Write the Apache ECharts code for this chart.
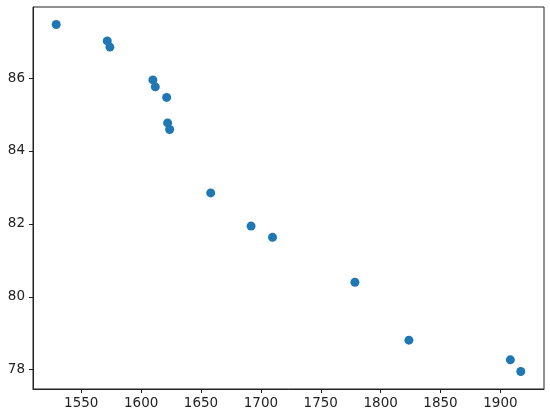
<!DOCTYPE html>
<html>
<head>
<meta charset="utf-8">
<script src="https://cdn.jsdelivr.net/npm/echarts@6/dist/echarts.min.js"></script>
<style>html,body{margin:0;padding:0;background:#fff}#c{width:550px;height:418px}</style>
</head>
<body>
<div id="c"></div>
<script>
const xValues = [1529.1, 1571.7, 1573.9, 1609.8, 1611.8, 1621.3, 1622.1, 1623.8, 1658.1, 1691.8, 1709.7, 1778.5, 1823.6, 1908.3, 1917.0];
const yValues = [87.47, 87.02, 86.85, 85.95, 85.76, 85.47, 84.77, 84.59, 82.85, 81.94, 81.63, 80.40, 78.81, 78.27, 77.95];
const xTicks = [1550, 1600, 1650, 1700, 1750, 1800, 1850, 1900];
const yTicks = [78, 80, 82, 84, 86];

const points = xValues.map((x, i) => [x, yValues[i]]);
const font = 'DejaVu Sans';
const chart = echarts.init(document.getElementById('c'));
chart.setOption({
  animation: false,
  grid: { left: 33, top: 7, right: 6, bottom: 29, show: true, borderColor: '#222', borderWidth: 1, backgroundColor: 'transparent' },
  xAxis: {
    type: 'value', min: 1509.7, max: 1936.4,
    axisLine: { show: true, onZero: false, lineStyle: { color: '#222', width: 1 } },
    axisTick: { show: true, inside: false, length: 4, customValues: xTicks, lineStyle: { color: '#222' } },
    axisLabel: { customValues: xTicks, margin: 7, color: '#222', fontFamily: font, fontSize: 13.5, formatter: v => String(v) },
    splitLine: { show: false }
  },
  yAxis: {
    type: 'value', min: 77.47, max: 87.95,
    axisLine: { show: true, onZero: false, lineStyle: { color: '#222', width: 1 } },
    axisTick: { show: true, inside: false, length: 4, customValues: yTicks, lineStyle: { color: '#222' } },
    axisLabel: { customValues: yTicks, margin: 8, color: '#222', fontFamily: font, fontSize: 13.5, formatter: v => String(v) },
    splitLine: { show: false }
  },
  series: [{
    type: 'scatter', data: points, symbol: 'circle', symbolSize: 9,
    itemStyle: { color: '#1f77b4', opacity: 1 }
  }]
});
</script>
</body>
</html>
